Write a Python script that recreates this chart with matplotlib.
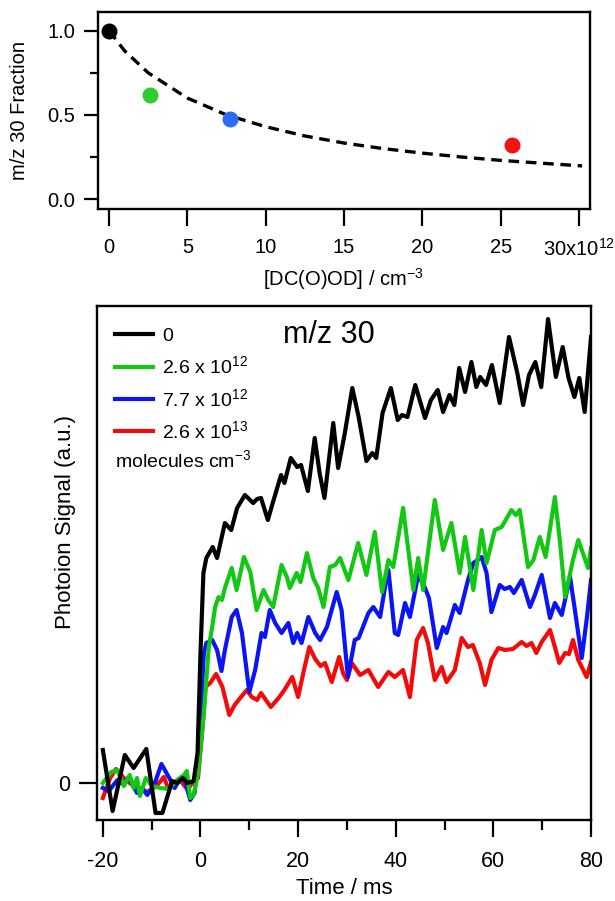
import matplotlib
matplotlib.use("Agg")
import matplotlib.pyplot as plt
from matplotlib.ticker import FormatStrFormatter

plt.rcParams["font.family"] = ["Liberation Sans", "DejaVu Sans"]
plt.rcParams["mathtext.fontset"] = "custom"
plt.rcParams["mathtext.rm"] = "Liberation Sans"
plt.rcParams["mathtext.it"] = "Liberation Sans"
plt.rcParams["axes.unicode_minus"] = False

# top panel: m/z 30 fraction vs [DC(O)OD] (x in 1e12 cm-3)
conc = [0.0, 2.6, 7.7, 25.7]
fraction = [1.0, 0.618, 0.473, 0.321]
dotColors = ["#000000", "#2ecc2e", "#2a6cf5", "#f01414"]

fitX = [0.0, 1.0, 2.5, 5.0, 7.5, 10.0, 12.5, 15.0, 17.5, 20.0, 22.5, 25.0, 27.5, 30.2]
fitY = [1.0, 0.88, 0.75, 0.60, 0.50, 0.43, 0.375, 0.333, 0.30, 0.273, 0.25, 0.23, 0.214, 0.197]

# bottom panel: photoion signal traces (time in ms, signal in a.u.)
blackT = [-20.0, -18.0, -15.5, -13.7, -11.1, -9.2, -7.8, -5.8, -4.8, -3.6, -2.7, -1.4, -0.6, 0.0, 0.6,
          1.2, 2.5, 3.4, 5.0, 6.3, 7.5, 9.1, 10.8, 11.6, 12.4, 13.8, 14.8, 16.5, 17.2, 18.5, 19.8,
          20.6, 22.0, 23.4, 24.4, 25.4, 27.2, 28.2, 29.5, 31.1, 32.4, 34.0, 35.2, 36.0, 37.3, 39.0,
          40.4, 41.3, 42.4, 44.0, 46.0, 47.2, 48.6, 49.7, 51.0, 52.0, 53.0, 54.2, 55.5, 56.5, 57.3,
          58.5, 59.7, 61.3, 63.2, 64.9, 66.1, 67.3, 68.6, 69.8, 71.2, 72.8, 74.2, 75.4, 76.6, 77.6,
          78.7, 80.0]
blackV = [0.33, -0.28, 0.28, 0.15, 0.34, -0.30, -0.30, 0.02, 0.0, 0.05, 0.0, 0.02, 0.30, 1.3, 2.1,
          2.25, 2.36, 2.25, 2.6, 2.53, 2.75, 2.88, 2.8, 2.84, 2.85, 2.63, 2.8, 3.08, 3.0, 3.25, 3.16,
          3.18, 2.92, 3.45, 3.1, 2.85, 3.6, 3.15, 3.48, 3.95, 3.66, 3.22, 3.3, 3.25, 3.7, 3.95,
          3.63, 3.68, 3.66, 3.98, 3.65, 3.83, 3.93, 3.71, 3.88, 3.78, 4.15, 3.91, 4.21, 3.96, 4.06,
          3.98, 4.18, 3.8, 4.46, 4.1, 3.78, 4.08, 4.21, 3.96, 4.64, 4.06, 4.36, 4.05, 3.86, 4.05,
          3.71, 4.46]

greenT = [-20.0, -18.3, -17.0, -15.7, -14.5, -13.7, -13.0, -12.4, -11.2, -9.9, -8.2, -6.5, -4.8,
          -3.4, -2.8, -2.1, -1.4, -0.5, 0.7, 1.7, 2.4, 3.0, 3.7, 4.4, 5.0, 6.4, 7.4, 8.9, 10.2,
          11.5, 12.9, 13.9, 14.9, 16.6, 17.7, 18.3, 19.7, 20.5, 21.8, 23.1, 24.1, 25.2, 26.5, 27.6,
          28.6, 30.3, 32.3, 34.0, 35.7, 37.2, 38.5, 39.5, 41.5, 43.6, 44.6, 45.6, 48.0, 49.7, 51.4,
          53.1, 54.2, 55.9, 57.6, 58.6, 60.3, 61.7, 63.7, 64.6, 65.4, 67.1, 68.2, 69.5, 70.7, 72.6,
          73.6, 74.7, 76.3, 77.4, 79.4, 80.0]
greenV = [0.0, 0.11, 0.13, -0.03, 0.08, -0.05, 0.05, -0.13, 0.05, -0.03, -0.05, -0.06, 0.03,
          0.08, 0.12, -0.15, -0.12, 0.1, 0.7, 1.36, 1.56, 1.76, 1.86, 1.83, 1.95, 2.15, 1.93, 2.26, 2.11,
          1.73, 1.93, 1.83, 1.76, 2.18, 2.06, 1.95, 2.1, 2.01, 2.3, 2.05, 1.95, 1.76, 2.16, 2.18,
          2.25, 2.03, 2.4, 2.08, 2.51, 1.91, 2.23, 2.16, 2.75, 1.93, 2.25, 1.93, 2.83, 2.33, 2.6,
          2.1, 2.46, 1.93, 2.53, 2.2, 2.53, 2.56, 2.73, 2.68, 2.73, 2.16, 2.23, 2.46, 2.26, 2.86,
          2.43, 1.86, 2.23, 2.43, 2.15, 2.35]

blueT = [-20.0, -18.8, -17.0, -15.7, -14.7, -13.0, -12.0, -10.9, -9.5, -8.0, -6.5, -5.3, -4.2,
         -3.4, -2.1, -1.2, -0.4, 0.7, 1.2, 2.4, 3.4, 4.3, 5.0, 6.4, 7.4, 8.5, 10.0, 11.2, 12.5,
         13.2, 14.2, 15.3, 16.6, 18.0, 19.0, 19.8, 20.7, 22.1, 23.5, 24.5, 25.9, 27.9, 28.9, 30.2,
         31.6, 32.4, 34.4, 35.4, 36.8, 37.8, 38.5, 39.8, 40.5, 41.9, 42.9, 44.6, 46.0, 46.8, 48.4,
         49.7, 50.4, 52.1, 53.1, 54.8, 55.9, 57.6, 58.6, 59.6, 61.3, 62.3, 63.4, 64.2, 65.8, 67.5,
         68.5, 69.9, 71.6, 72.6, 74.0, 75.7, 76.7, 78.1, 79.1, 80.0]
blueV = [-0.05, -0.08, 0.03, -0.02, 0.06, -0.1, -0.05, -0.12, -0.02, 0.19, 0.06, -0.05, 0.04,
         0.06, -0.17, -0.1, 0.3, 1.3, 1.4, 1.43, 1.33, 1.12, 1.33, 1.66, 1.73, 1.5, 0.91, 1.13, 1.5,
         1.46, 1.73, 1.6, 1.5, 1.6, 1.4, 1.5, 1.4, 1.66, 1.5, 1.43, 1.56, 1.91, 1.73, 1.06,
         1.43, 1.45, 1.7, 1.76, 1.66, 1.96, 2.13, 1.5, 1.48, 1.8, 1.66, 2.08, 1.95, 1.85, 1.35,
         1.56, 1.5, 1.78, 1.7, 2.03, 2.2, 2.26, 2.1, 1.71, 1.98, 1.94, 1.96, 1.9, 2.03, 1.76,
         1.88, 2.08, 1.65, 1.8, 1.68, 2.06, 1.73, 1.25, 1.63, 2.03]

redT = [-20.0, -18.5, -17.3, -15.7, -14.5, -13.3, -11.6, -10.9, -9.0, -7.5, -6.5, -5.5, -4.2,
        -2.6, -1.5, -0.5, 0.5, 1.0, 2.0, 3.2, 4.5, 5.9, 7.0, 8.3, 9.5, 10.5, 11.6, 12.4, 14.4,
        16.0, 17.2, 18.8, 20.0, 21.2, 22.3, 23.5, 24.6, 25.5, 26.9, 28.4, 29.2, 30.0, 31.0, 32.7,
        34.4, 36.4, 38.5, 39.8, 41.5, 42.9, 44.3, 45.6, 46.6, 48.0, 49.4, 50.4, 52.1, 53.5, 54.8,
        55.8, 57.2, 58.3, 59.6, 61.0, 62.4, 64.0, 65.8, 66.8, 67.8, 68.8, 69.9, 71.6, 72.6, 73.5,
        74.7, 75.5, 76.3, 77.4, 79.1, 80.0]
redV = [-0.15, 0.05, 0.14, 0.05, 0.0, -0.04, -0.07, -0.09, -0.03, 0.06, -0.07, 0.0, 0.03,
        -0.07, 0.02, 0.05, 0.6, 0.96, 1.0, 1.09, 0.96, 0.68, 0.78, 0.86, 0.93, 0.86, 0.83, 0.9, 0.76,
        0.85, 0.93, 1.06, 0.86, 1.13, 1.36, 1.24, 1.17, 1.2, 1.01, 1.26, 1.1, 1.03, 1.2, 1.08,
        1.13, 0.96, 1.11, 1.06, 1.13, 0.86, 1.43, 1.55, 1.4, 1.03, 1.16, 1.01, 1.13, 1.45, 1.36,
        1.38, 1.2, 0.98, 1.23, 1.35, 1.33, 1.34, 1.41, 1.37, 1.4, 1.3, 1.41, 1.53, 1.36, 1.2,
        1.3, 1.29, 1.43, 1.23, 1.06, 1.21]

legendLabels = ["0", "2.6 x 10$^{12}$", "7.7 x 10$^{12}$", "2.6 x 10$^{13}$"]
traceColors = ["#000000", "#12c812", "#0a14f5", "#f50a0a"]


def styleAxes(ax, size):
    for spine in ax.spines.values():
        spine.set_linewidth(1.7)
    ax.tick_params(which="both", direction="out", width=1.6, labelsize=size, top=False, right=False)


fig = plt.figure(figsize=(6.15, 9.01), dpi=100)

# ---- top panel
ax1 = fig.add_axes([0.1587, 0.768, 0.8006, 0.219])
ax1.plot(fitX, fitY, color="k", lw=2.4, dashes=(3.2, 2.0), zorder=2)
for x, y, c in zip(conc, fraction, dotColors):
    ax1.plot([x], [y], "o", ms=10.5, color=c, zorder=3)
ax1.set_xlim(-0.73, 30.7)
ax1.set_ylim(-0.059, 1.113)
ax1.set_xticks(range(0, 31, 5))
ax1.set_xticklabels(["0", "5", "10", "15", "20", "25", "30x10$^{12}$"])
ax1.set_yticks([0.0, 0.5, 1.0])
ax1.set_yticks([0.25, 0.75], minor=True)
ax1.yaxis.set_major_formatter(FormatStrFormatter("%.1f"))
styleAxes(ax1, 14.5)
ax1.tick_params(axis="x", length=12, pad=9)
ax1.tick_params(axis="y", which="major", length=10, pad=6)
ax1.tick_params(axis="y", which="minor", length=6)
ax1.set_xlabel("[DC(O)OD] / cm$^{-3}$", fontsize=14.5)
ax1.xaxis.set_label_coords(0.5, -0.29)
ax1.set_ylabel("m/z 30 Fraction", fontsize=14.5)
ax1.yaxis.set_label_coords(-0.1385, 0.5)

# ---- bottom panel
ax2 = fig.add_axes([0.1577, 0.0899, 0.8033, 0.5708])
lines = {}
for name, t, v, c in [("red", redT, redV, traceColors[3]),
                      ("blue", blueT, blueV, traceColors[2]),
                      ("green", greenT, greenV, traceColors[1]),
                      ("black", blackT, blackV, traceColors[0])]:
    lines[name], = ax2.plot(t, v, color=c, lw=3.0, solid_joinstyle="round")
ax2.set_xlim(-21.2, 80)
ax2.set_ylim(-0.37, 4.773)
ax2.set_xticks(range(-20, 81, 20))
ax2.set_xticks(range(-10, 81, 20), minor=True)
ax2.set_yticks([0])
styleAxes(ax2, 15.5)
ax2.tick_params(axis="x", which="major", length=12, pad=10)
ax2.tick_params(axis="x", which="minor", length=7)
ax2.tick_params(axis="y", length=13, pad=6)
ax2.set_xlabel("Time / ms", fontsize=16)
ax2.xaxis.set_label_coords(0.5, -0.113)
ax2.set_ylabel("Photoion Signal (a.u.)", fontsize=16)
ax2.yaxis.set_label_coords(-0.0425, 0.58)

ax2.text(0.47, 0.944, "m/z 30", transform=ax2.transAxes, ha="center", va="center", fontsize=22)
ax2.legend([lines["black"], lines["green"], lines["blue"], lines["red"]], legendLabels,
           loc="upper left", bbox_to_anchor=(0.037, 0.958), frameon=False, fontsize=14,
           handlelength=1.95, handletextpad=0.45, labelspacing=0.54, borderaxespad=0, borderpad=0)
ax2.text(0.036, 0.687, "molecules cm$^{-3}$", transform=ax2.transAxes, ha="left", va="baseline",
         fontsize=14)

fig.savefig("out.png", dpi=100)
